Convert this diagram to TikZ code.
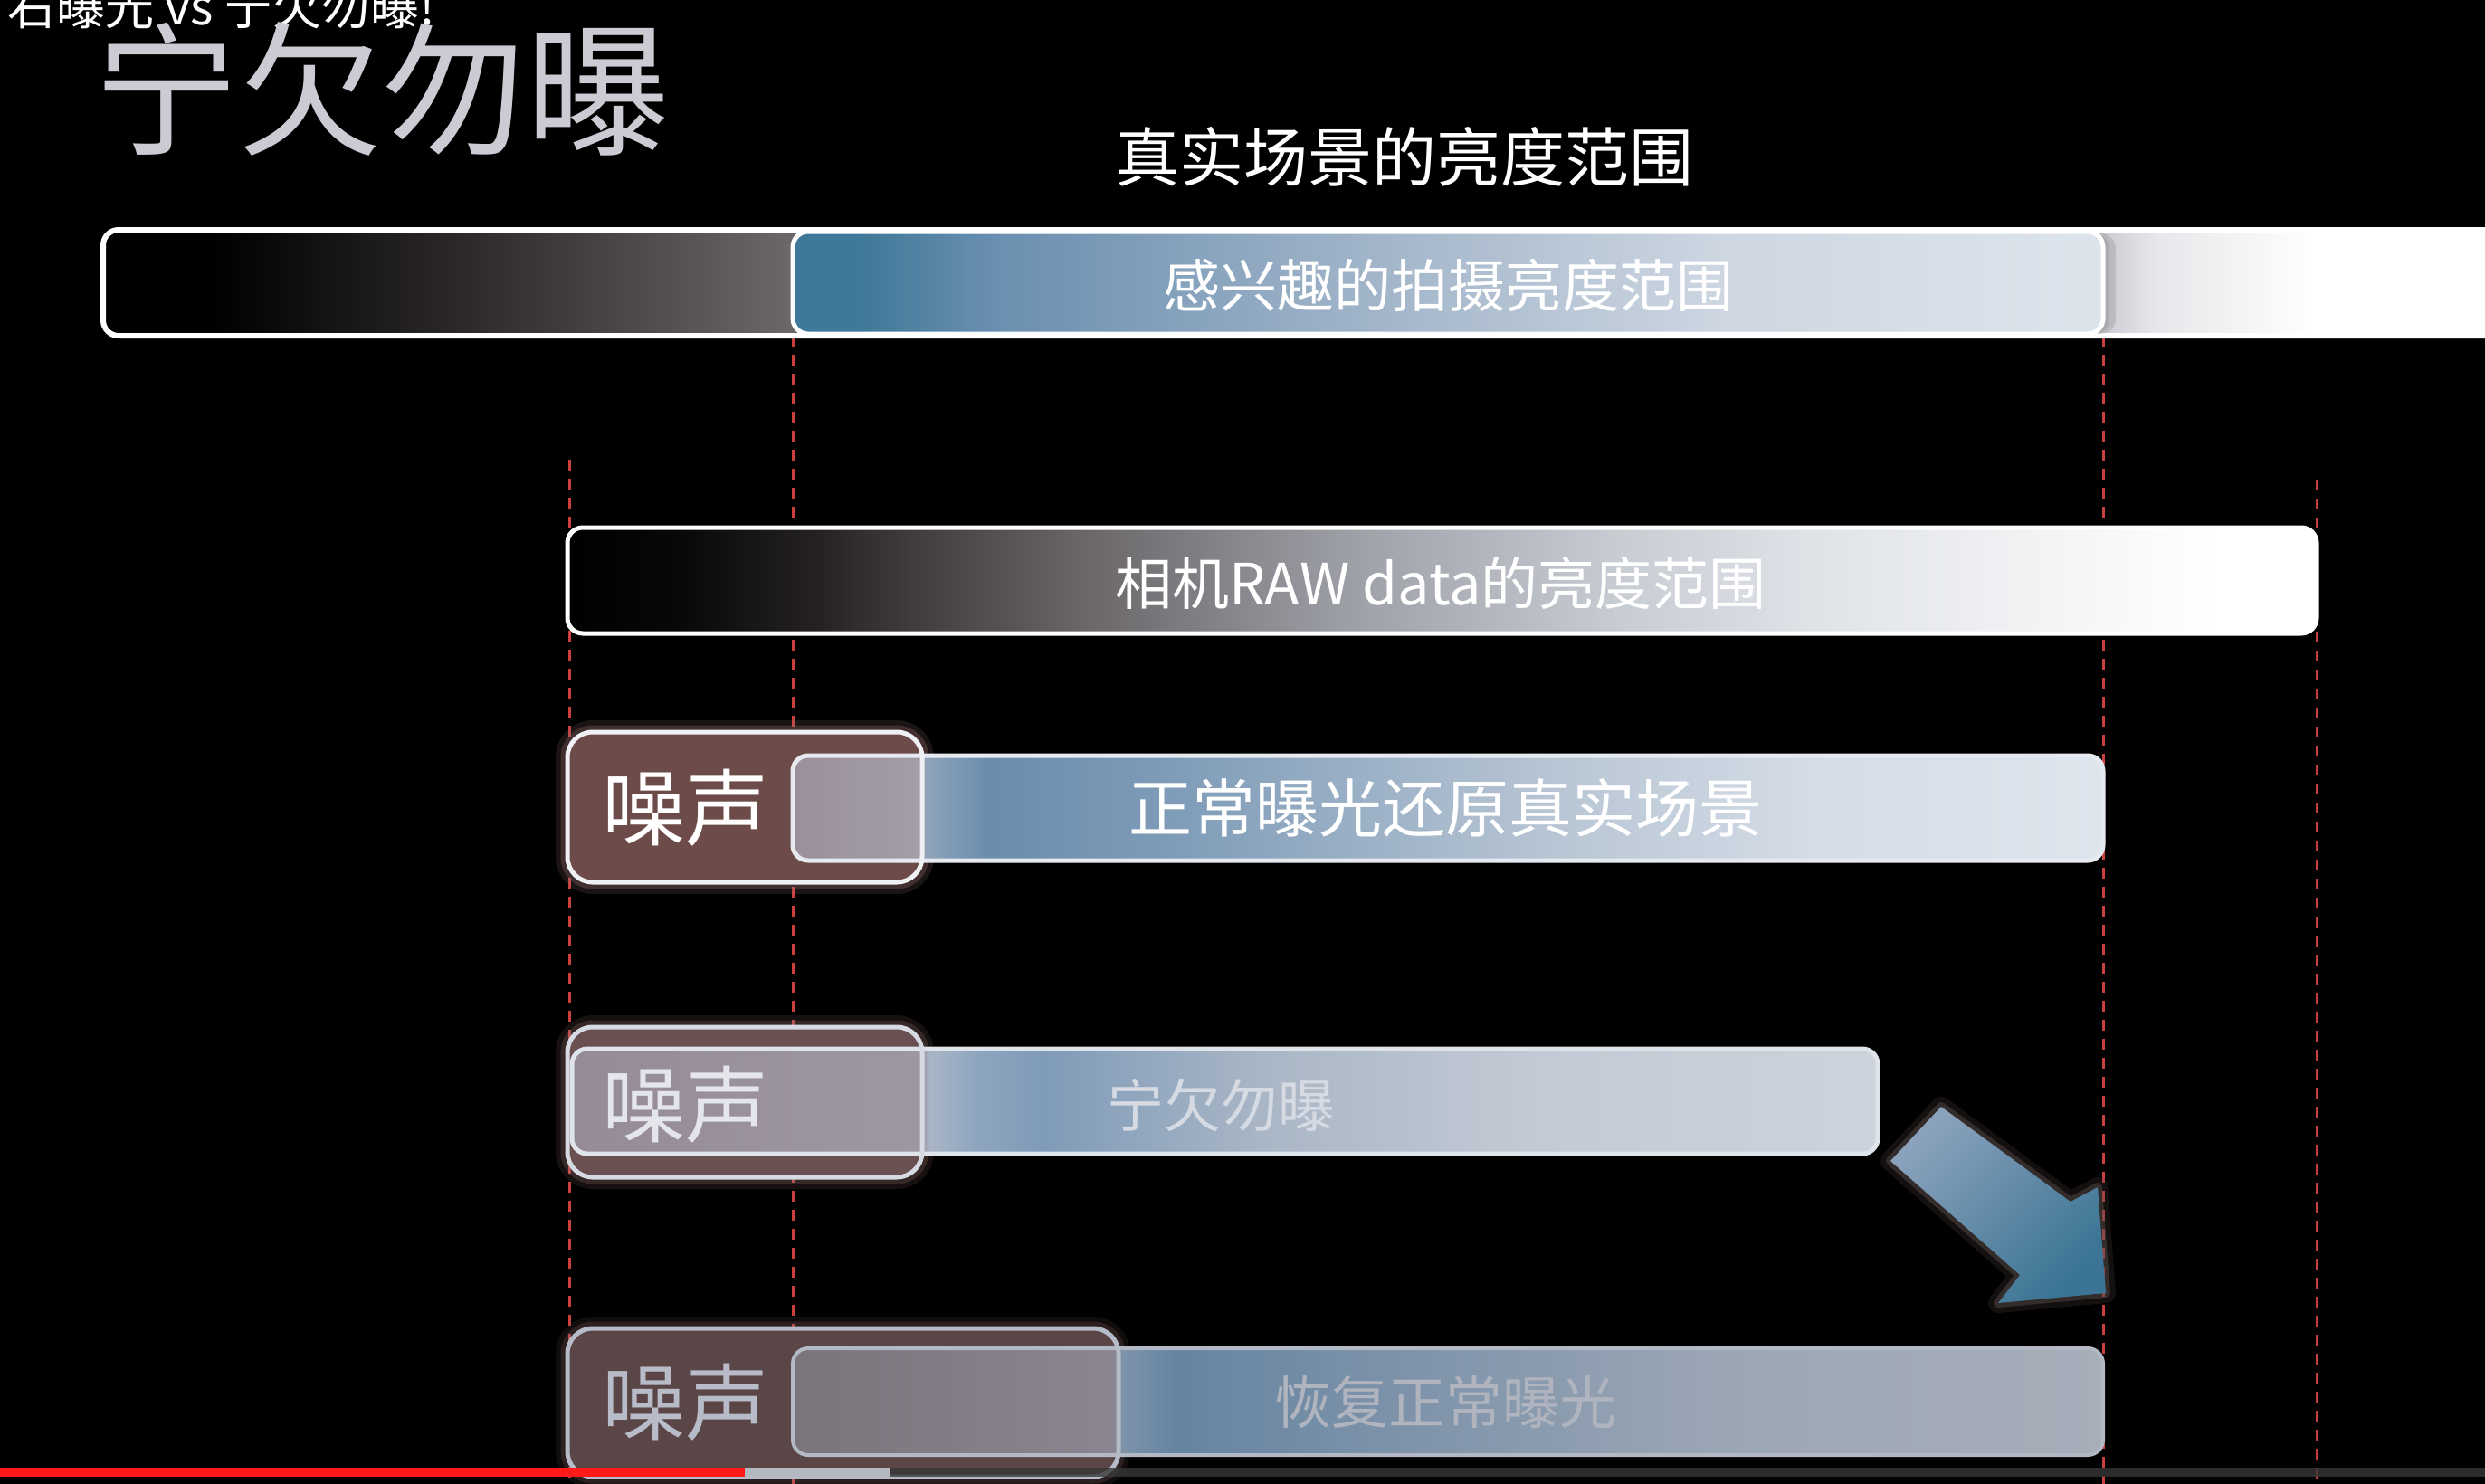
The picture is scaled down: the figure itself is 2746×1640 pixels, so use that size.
\documentclass[tikz,border=0pt]{standalone}
\usepackage{fontspec}
\setmainfont{Noto Sans CJK SC}
\newcommand\fsz[1]{\fontsize{#1}{#1}\selectfont}
\definecolor{dashred}{HTML}{C9413F}
\definecolor{tba}{HTML}{2B2728}
\definecolor{tbb}{HTML}{6B6667}
\definecolor{tbc}{HTML}{C9CBD1}
\definecolor{tbd}{HTML}{E6E7EA}
\definecolor{bba}{HTML}{3F7898}
\definecolor{bbb}{HTML}{6A8FB0}
\definecolor{bbc}{HTML}{9FB3C8}
\definecolor{bbd}{HTML}{CDD6E1}
\definecolor{bbe}{HTML}{DDE4EC}
\definecolor{rwa}{HTML}{080808}
\definecolor{rwb}{HTML}{252122}
\definecolor{rwc}{HTML}{3E393A}
\definecolor{rwd}{HTML}{6A6669}
\definecolor{rwe}{HTML}{9FA1A9}
\definecolor{rwf}{HTML}{C9CDD4}
\definecolor{rwg}{HTML}{DFE2E7}
\definecolor{rwh}{HTML}{F5F6F7}
\definecolor{rta}{HTML}{9A909B}
\definecolor{rtb}{HTML}{A39DA8}
\definecolor{rtc}{HTML}{8EA3B9}
\definecolor{rtd}{HTML}{6A8DAD}
\definecolor{rte}{HTML}{7F9CB8}
\definecolor{rtf}{HTML}{B6C4D3}
\definecolor{rtg}{HTML}{D4DCE6}
\definecolor{rth}{HTML}{DEE5ED}
\definecolor{rfa}{HTML}{958B97}
\definecolor{rfb}{HTML}{9E97A3}
\definecolor{rfc}{HTML}{A9B6C6}
\definecolor{rfd}{HTML}{8EA5BF}
\definecolor{rfe}{HTML}{7F9BB8}
\definecolor{rff}{HTML}{AAB7C6}
\definecolor{rfg}{HTML}{C3CAD5}
\definecolor{rfh}{HTML}{CDD3DC}
\definecolor{rva}{HTML}{7A747C}
\definecolor{rvb}{HTML}{8A8590}
\definecolor{rvc}{HTML}{7D93AA}
\definecolor{rvd}{HTML}{6584A2}
\definecolor{rve}{HTML}{7990A8}
\definecolor{rvf}{HTML}{9BA6B5}
\definecolor{rvg}{HTML}{A7ADB9}
\definecolor{nzc}{HTML}{6C4B48}
\definecolor{nzd}{HTML}{6B5052}
\definecolor{nze}{HTML}{5A4646}
\definecolor{glowc}{HTML}{9A7070}
\definecolor{arl}{HTML}{8AA2BC}
\definecolor{arb}{HTML}{3B7494}
\definecolor{silver}{HTML}{CACBD3}
\definecolor{pgred}{HTML}{FF1A1A}
\definecolor{pggray}{HTML}{B4B8C0}
\definecolor{bdthree}{HTML}{E6EAF0}
\definecolor{nbthree}{HTML}{EEF0F4}
\definecolor{bdfour}{HTML}{DFE4EB}
\definecolor{nbfour}{HTML}{D6DAE3}
\definecolor{ntfour}{HTML}{E4E6EC}
\definecolor{txfour}{HTML}{D6DAE2}
\definecolor{shadowc}{HTML}{504242}
\definecolor{shadowd}{HTML}{645454}
\definecolor{bdfive}{HTML}{B2B8C4}
\definecolor{nbfive}{HTML}{B5BBC7}
\definecolor{ntfive}{HTML}{B8BCC8}
\definecolor{txfive}{HTML}{B0B4BE}
\pgfdeclarehorizontalshading{topbarsh}{100bp}{color(0bp)=(black); color(27.2bp)=(black); color(32.2bp)=(tba); color(39.1bp)=(tbb); color(66.1bp)=(tbc); color(67.2bp)=(tbd); color(70.5bp)=(white); color(100bp)=(white)}
\pgfdeclarehorizontalshading{bluesh}{100bp}{color(0bp)=(bba); color(27.5bp)=(bba); color(32.7bp)=(bbb); color(46.5bp)=(bbc); color(60.4bp)=(bbd); color(75bp)=(bbe); color(100bp)=(bbe)}
\pgfdeclarehorizontalshading{rawsh}{100bp}{color(0bp)=(black); color(25bp)=(black); color(28.2bp)=(rwa); color(32.1bp)=(rwb); color(34.6bp)=(rwc); color(39.8bp)=(rwd); color(47.6bp)=(rwe); color(55.3bp)=(rwf); color(60.5bp)=(rwg); color(68.3bp)=(rwh); color(72.2bp)=(white); color(100bp)=(white)}
\pgfdeclarehorizontalshading{rowthreesh}{100bp}{color(0bp)=(rta); color(25bp)=(rta); color(29.8bp)=(rtb); color(30.1bp)=(rtc); color(32.5bp)=(rtd); color(39.6bp)=(rte); color(53.5bp)=(rtf); color(63.8bp)=(rtg); color(75bp)=(rth); color(100bp)=(rth)}
\pgfdeclarehorizontalshading{rowfoursh}{100bp}{color(0bp)=(rfa); color(25bp)=(rfa); color(38.4bp)=(rfb); color(38.7bp)=(rfc); color(40.5bp)=(rfd); color(43bp)=(rfe); color(51.7bp)=(rff); color(62.05bp)=(rfg); color(75bp)=(rfh); color(100bp)=(rfh)}
\pgfdeclarehorizontalshading{rowfivesh}{100bp}{color(0bp)=(rva); color(25bp)=(rva); color(37.2bp)=(rvb); color(37.6bp)=(rvc); color(39.6bp)=(rvd); color(46.5bp)=(rve); color(60.4bp)=(rvf); color(75bp)=(rvg); color(100bp)=(rvg)}
\begin{document}
\begin{tikzpicture}[x=1pt,y=-1pt,
  dashline/.style={draw=dashred, line width=3pt, dash pattern=on 12pt off 9pt},
  barshape/.style={rounded corners=17pt, line width=5pt},
  noisebox/.style={rounded corners=28pt, line width=5pt},
  glowline/.style={draw=glowc, rounded corners=28pt},
  bartext/.style={inner sep=0pt, text=#1},
  noisetext/.style={inner sep=0pt, text=#1, font=\fsz{92}}]
\useasboundingbox (0,0) rectangle (2746,1640);
\fill[black] (0,0) rectangle (2746,1640);
\begin{scope}
\clip (0,0) rectangle (2746,1640);
% dashed guide lines
\coordinate (da1) at (629,508);  \coordinate (db1) at (629,1640);
\coordinate (da2) at (876,371);  \coordinate (db2) at (876,1640);
\coordinate (da3) at (2324,371); \coordinate (db3) at (2324,1640);
\coordinate (da4) at (2560,530); \coordinate (db4) at (2560,1640);
\draw[dashline] (da1) -- (db1);
\draw[dashline] (da2) -- (db2);
\draw[dashline] (da3) -- (db3);
\draw[dashline] (da4) -- (db4);
% titles
\node[anchor=base west, inner sep=0pt, text=white, font=\fsz{54}] (subtitle) at (8,28) {右曝光 vs 宁欠勿曝!};
\node[anchor=base west, inner sep=0pt, text=silver, font=\fsz{159}] (title) at (104,160) {宁欠勿曝};
\node[bartext=white, font=\fsz{71}] (scene) at (1552,173) {真实场景的亮度范围};
% top bar: real scene range
\path[shading=topbarsh, draw=white, line width=6pt, rounded corners=17pt] (114,254) rectangle (2800,371);
\fill[gray, opacity=0.25, rounded corners=17pt] (884,258) rectangle (2338,369);
\fill[gray, opacity=0.25, rounded corners=17pt] (880,258) rectangle (2331,369);
\path[shading=bluesh, draw=white, barshape] (876,256) rectangle (2324,369);
\node[bartext=white, font=\fsz{63}] (interest) at (1600,315) {感兴趣的拍摄亮度范围};
% RAW bar
\path[shading=rawsh, draw=white, barshape] (627,583) rectangle (2560,700);
\node[bartext=white, font=\fsz{63}] (raw) at (1592,644) {相机RAW data的亮度范围};
% row 3
\draw[glowline, line width=26pt, opacity=0.18] (627,809) rectangle (1019,975);
\draw[glowline, line width=15pt, opacity=0.3] (627,809) rectangle (1019,975);
\fill[nzc, noisebox] (627,809) rectangle (1019,975);
\path[shading=rowthreesh, draw=bdthree, barshape] (876,835) rectangle (2324,951);
\draw[draw=nbthree, noisebox] (627,809) rectangle (1019,975);
\node[noisetext=white] (noiseA) at (757,893) {噪声};
\node[bartext=white, font=\fsz{70}] (normal) at (1597,893) {正常曝光还原真实场景};
% row 4
\draw[glowline, line width=26pt, opacity=0.15] (627,1135) rectangle (1019,1301);
\draw[glowline, line width=15pt, opacity=0.25] (627,1135) rectangle (1019,1301);
\fill[nzd, noisebox] (627,1135) rectangle (1019,1301);
\path[shading=rowfoursh, draw=bdfour, barshape] (632,1159) rectangle (2075,1275);
\draw[draw=nbfour, noisebox] (627,1135) rectangle (1019,1301);
\node[noisetext=ntfour] (noiseB) at (757,1221) {噪声};
\node[bartext=txfour, font=\fsz{63}] (under) at (1349,1221) {宁欠勿曝};
% arrow
\coordinate (aa) at (2145,1223);
\coordinate (ab) at (2288,1328);
\coordinate (ac) at (2318,1312);
\coordinate (ad) at (2327,1429);
\coordinate (ae) at (2208,1440);
\coordinate (af) at (2232,1409);
\coordinate (ag) at (2089,1283);
\draw[draw=shadowc, line width=22pt, line join=round, opacity=0.25] (aa) -- (ab) -- (ac) -- (ad) -- (ae) -- (af) -- (ag) -- cycle;
\draw[draw=shadowd, line width=10pt, line join=round, opacity=0.4] (aa) -- (ab) -- (ac) -- (ad) -- (ae) -- (af) -- (ag) -- cycle;
\shade[top color=arl, middle color=arb, bottom color=arb, shading angle=45] (aa) -- (ab) -- (ac) -- (ad) -- (ae) -- (af) -- (ag) -- cycle;
% row 5
\draw[glowline, line width=26pt, opacity=0.12] (627,1468) rectangle (1236,1632);
\draw[glowline, line width=15pt, opacity=0.2] (627,1468) rectangle (1236,1632);
\fill[nze, noisebox] (627,1468) rectangle (1236,1632);
\path[shading=rowfivesh, draw=bdfive, barshape, line width=4pt] (876,1490) rectangle (2324,1608);
\draw[draw=nbfive, noisebox] (627,1468) rectangle (1236,1632);
\node[noisetext=ntfive] (noiseC) at (757,1550) {噪声};
\node[bartext=txfive, font=\fsz{63}] (recover) at (1597,1550) {恢复正常曝光};
% progress bar
\fill[pgred] (0,1622) rectangle (823,1632);
\fill[pggray] (823,1622) rectangle (984,1632);
\fill[black!78, opacity=0.8] (984,1622) rectangle (2746,1632);
\end{scope}
\end{tikzpicture}
\end{document}
